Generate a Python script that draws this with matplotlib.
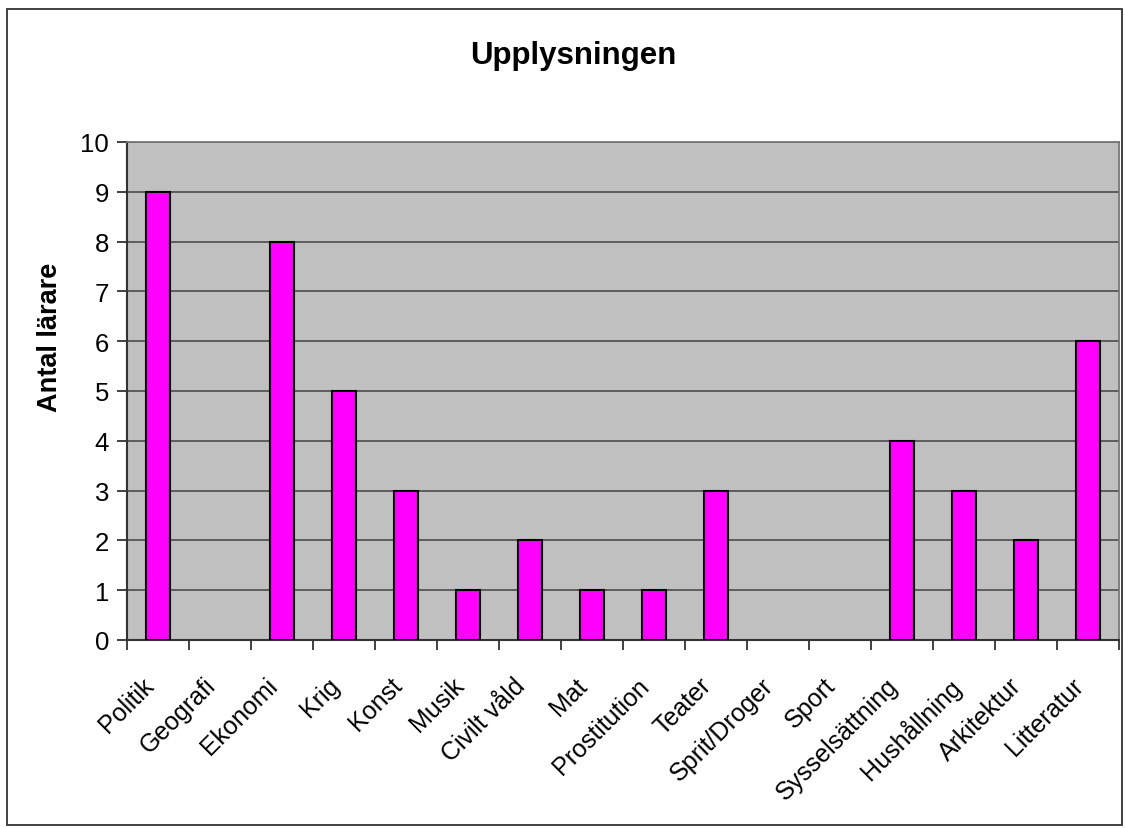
import numpy as np
import matplotlib.pyplot as plt
from matplotlib.patches import Rectangle

## data
categories = ['Politik', 'Geografi', 'Ekonomi', 'Krig', 'Konst', 'Musik', 'Civilt våld',
              'Mat', 'Prostitution', 'Teater', 'Sprit/Droger', 'Sport',
              'Sysselsättning', 'Hushållning', 'Arkitektur', 'Litteratur']
values = [9, 0, 8, 5, 3, 1, 2, 1, 1, 3, 0, 0, 4, 3, 2, 6]
yticks = list(range(0, 11))

plt.rcParams['font.family'] = ['Liberation Sans', 'DejaVu Sans']

fig = plt.figure(figsize=(11.25, 8.29), dpi=100)
ax = fig.add_axes([127/1125, 1 - 641/829, 992/1125, 498/829])

x = np.arange(len(categories))
ax.set_facecolor('#C0C0C0')
for y in yticks[1:]:
    ax.axhline(y, color='#555555', lw=1.3, zorder=1)
# no outline for empty categories
lws = [1.5 if v > 0 else 0 for v in values]
ax.bar(x, values, width=0.39, color='#FF00FF', edgecolor='black', linewidth=lws, zorder=3)

ax.set_xlim(-0.5, len(categories) - 0.5)
ax.set_ylim(0, 10)
ax.set_yticks(yticks)
ax.set_yticklabels([str(t) for t in yticks], fontsize=18.5)
ax.set_xticks(np.append(x - 0.5, len(x) - 0.5))
ax.set_xticklabels([''] * (len(x) + 1))
ax.tick_params(axis='x', length=7, width=1.3, color='#333333')
ax.tick_params(axis='y', length=7, width=1.3, color='#333333', pad=6)
for xi, lab in zip(x, categories):
    ax.text(xi - 0.27, -0.66, lab, rotation=45, ha='right', va='top',
            rotation_mode='anchor', fontsize=18, transform=ax.transData)

for s in ['left', 'bottom']:
    ax.spines[s].set_color('#333333')
    ax.spines[s].set_linewidth(1.5)
for s in ['top', 'right']:
    ax.spines[s].set_color('#777777')
    ax.spines[s].set_linewidth(1.3)

fig.text(50/1125, 1 - 337/829, 'Antal lärare', rotation=90, ha='center', va='center',
         fontsize=19.5, fontweight='bold')
fig.text(573/1125, 1 - 56/829, 'Upplysningen', ha='center', va='center',
         fontsize=22.5, fontweight='bold')

fig.patches.append(Rectangle((7/1125, 1 - 826/829), 1115/1125, 816/829,
                             transform=fig.transFigure, fill=False,
                             edgecolor='#333333', lw=1.3))

fig.savefig('out.png', dpi=100)
